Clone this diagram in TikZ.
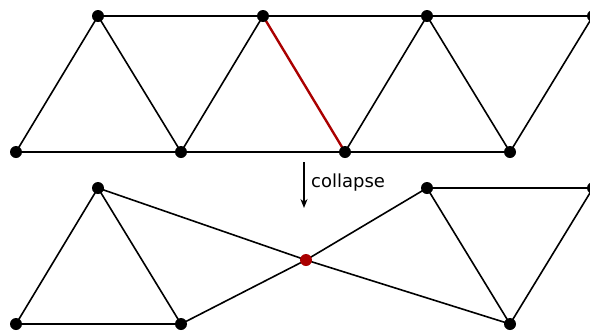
\documentclass[tikz,border=0pt]{standalone}
\usepackage{fontspec}
\setmainfont{DejaVu Sans}
\usetikzlibrary{arrows.meta}
\definecolor{edgered}{RGB}{170,0,0}
\begin{document}
\begin{tikzpicture}[x=1pt,y=-1pt,
  vtx/.style={circle,fill=black,inner sep=0pt,minimum size=12pt},
  rvtx/.style={circle,fill=edgered,inner sep=0pt,minimum size=12pt},
  edge/.style={line width=1.6pt,black},
  redge/.style={line width=2.4pt,edgered}]
\useasboundingbox (0,0) rectangle (590,333);
% top
\coordinate (t1) at (98,16);
\coordinate (t2) at (263,16);
\coordinate (t3) at (427,16);
\coordinate (t4) at (593,16);
\coordinate (b1) at (16,152);
\coordinate (b2) at (181,152);
\coordinate (b3) at (345,152);
\coordinate (b4) at (510,152);
\draw[edge] (t1) -- (t4);
\draw[edge] (b1) -- (b4);
\draw[edge] (b1) -- (t1) -- (b2) -- (t2);
\draw[edge] (b3) -- (t3) -- (b4) -- (t4);
\draw[redge] (t2) -- (b3);
\foreach \v in {t1,t2,t3,t4,b1,b2,b3,b4} \node[vtx] at (\v) {};
% arrow
\coordinate (a1) at (304,162);
\coordinate (a2) at (304,208);
\draw[line width=1.5pt,-{Stealth[length=9pt,width=7pt]}] (a1) -- (a2);
\node[anchor=west,font=\fontsize{18}{21}\selectfont,inner sep=0pt] (lab) at (311,183) {collapse};
% bottom
\coordinate (u1) at (98,188);
\coordinate (u3) at (427,188);
\coordinate (u4) at (593,188);
\coordinate (l1) at (16,324);
\coordinate (l2) at (181,324);
\coordinate (l4) at (510,324);
\coordinate (m) at (306,260);
\draw[edge] (l1) -- (u1) -- (l2) -- (l1);
\draw[edge] (u1) -- (m) -- (l4);
\draw[edge] (l2) -- (m) -- (u3);
\draw[edge] (u3) -- (u4);
\draw[edge] (u3) -- (l4) -- (u4);
\foreach \v in {u1,u3,u4,l1,l2,l4} \node[vtx] at (\v) {};
\node[rvtx] at (m) {};
\end{tikzpicture}
\end{document}
